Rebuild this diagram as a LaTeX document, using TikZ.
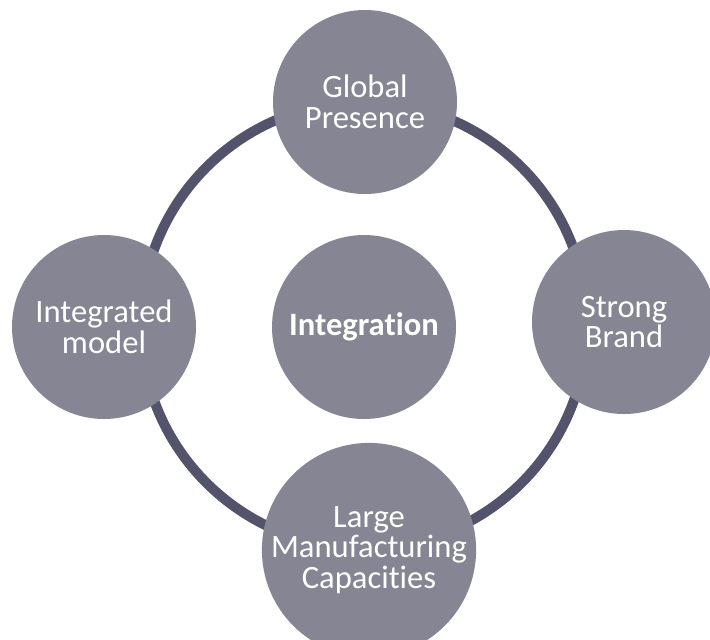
\documentclass[tikz,border=0pt]{standalone}
\usepackage{fontspec}
\setmainfont{Carlito}[Ligatures={NoCommon,NoRare}]
\usetikzlibrary{positioning}
\definecolor{ringgrey}{RGB}{83,84,107}
\definecolor{bubblegrey}{RGB}{134,133,147}
\tikzstyle{ringline}=[draw=ringgrey,line width=5pt]
\tikzstyle{bubble}=[circle,fill=bubblegrey,minimum size=92pt,inner sep=0pt,text=white,align=center,font=\fontsize{16.3}{15.4}\selectfont]
\begin{document}
\begin{tikzpicture}[x=0.5pt,y=-0.5pt]
  \useasboundingbox (0,0) rectangle (710,639);
  \clip (0,0) rectangle (710,639);
  % ring behind the bubbles
  \draw[ringline] (364,325) circle (111.5pt);
  \node[bubble] (hub) at (364,327) {\textbf{Integration}};
  \node[bubble] (global) at (365,102) {Global\\Presence};
  \node[bubble] (model) at (104,327) {Integrated\\model};
  \node[bubble] (brand) at (624,322) {Strong\\Brand};
  \node[bubble] (capac) at (369,550) {Large\\Manufacturing\\Capacities};
\end{tikzpicture}
\end{document}
